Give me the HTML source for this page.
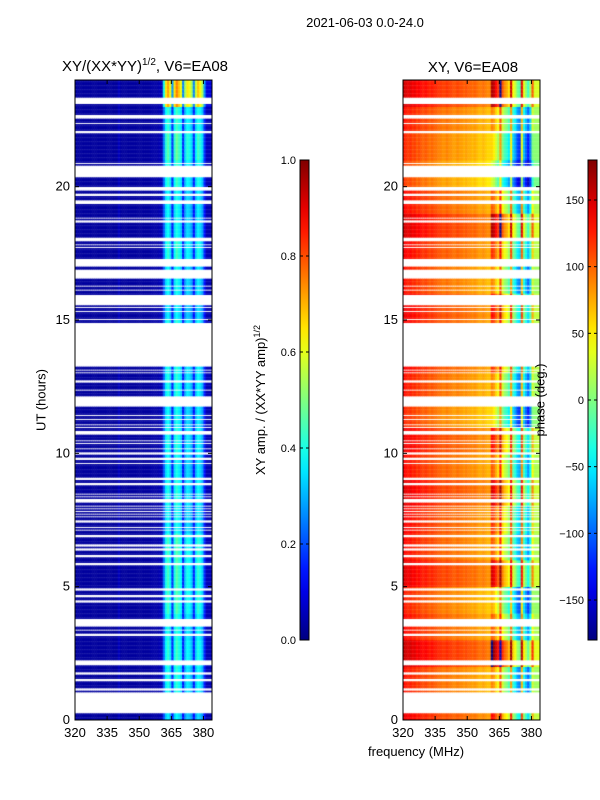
<!DOCTYPE html>
<html><head><meta charset="utf-8">
<style>
body{margin:0;background:#fff;}
#root{position:relative;width:600px;height:800px;font-family:"Liberation Sans","DejaVu Sans",sans-serif;color:#000;}
.t{position:absolute;white-space:nowrap;}
canvas{position:absolute;}
</style></head>
<body>
<div id="root">
<div class="t" style="left:0;width:730px;top:15px;text-align:center;font-size:13px;">2021-06-03 0.0-24.0</div>
<div class="t" style="left:40px;width:210px;top:57px;text-align:center;font-size:15px;">XY/(XX*YY)<sup style="font-size:10px">1/2</sup>, V6=EA08</div>
<div class="t" style="left:368px;width:210px;top:59px;text-align:center;font-size:15px;">XY, V6=EA08</div>
<canvas id="c1" width="137" height="640" style="left:75px;top:80px"></canvas>
<canvas id="c2" width="137" height="640" style="left:403px;top:80px"></canvas>
<svg id="ov" width="600" height="800" style="position:absolute;left:0;top:0"></svg>
<div class="t" style="left:41px;top:400px;transform:translate(-50%,-50%) rotate(-90deg);font-size:13px;">UT (hours)</div>
<div class="t" style="left:368px;top:744px;font-size:13px;">frequency (MHz)</div>
<div class="t" style="left:260px;top:400px;transform:translate(-50%,-50%) rotate(-90deg);font-size:13px;">XY amp. / (XX*YY amp)<sup style="font-size:9px">1/2</sup></div>
<div class="t" style="left:540px;top:400px;transform:translate(-50%,-50%) rotate(-90deg);font-size:13px;">phase (deg.)</div>
</div>
<script>
// ---- data ----
const gaps=[[23.10,23.36],[22.57,22.68],[22.35,22.42],[22.01,22.12],[20.85,20.92],[20.36,20.81],[19.84,20.02],[19.65,19.76],[19.35,19.50],[18.79,18.86],[18.67,18.75],[17.96,18.11],[17.81,17.85],[17.70,17.74],[17.59,17.62],[17.17,17.32],[17.02,17.14],[16.57,16.91],[16.39,16.42],[16.27,16.31],[16.12,16.16],[15.82,15.94],[15.56,15.79],[15.45,15.49],[15.30,15.34],[15.00,15.04],[13.24,14.92],[13.12,13.16],[13.01,13.05],[12.94,12.97],[12.64,12.75],[12.49,12.52],[12.37,12.41],[12.07,12.15],[11.92,12.04],[11.74,11.89],[11.40,11.44],[11.25,11.29],[11.14,11.17],[11.06,11.10],[10.95,10.99],[10.69,10.84],[10.46,10.50],[10.35,10.39],[10.24,10.27],[10.16,10.20],[9.97,10.05],[9.75,9.86],[9.60,9.64],[9.49,9.52],[9.34,9.37],[9.00,9.11],[8.81,8.92],[8.59,8.62],[8.47,8.51],[8.36,8.40],[8.17,8.29],[8.02,8.06],[7.91,7.95],[7.80,7.84],[7.72,7.76],[7.61,7.65],[7.39,7.50],[7.20,7.24],[7.12,7.16],[6.86,6.94],[6.49,6.60],[6.37,6.45],[6.11,6.19],[6.04,6.07],[5.81,5.89],[4.87,4.95],[4.61,4.69],[4.39,4.50],[3.67,3.82],[3.52,3.64],[3.34,3.41],[3.15,3.26],[2.89,2.92],[2.17,2.25],[2.06,2.14],[1.72,1.80],[1.46,1.54],[1.12,1.20],[0.26,1.05]];
const colAmp=[0.03,0.03,0.03,0.03,0.03,0.03,0.03,0.03,0.03,0.03,0.03,0.03,0.03,0.03,0.03,0.03,0.03,0.03,0.03,0.03,0.06,0.03,0.03,0.03,0.03,0.03,0.03,0.03,0.03,0.03,0.03,0.03,0.03,0.03,0.03,0.04,0.04,0.04,0.04,0.05,0.05,0.22,0.36,0.40,0.34,0.15,0.36,0.42,0.38,0.34,0.14,0.30,0.36,0.34,0.30,0.14,0.32,0.38,0.35,0.30,0.15,0.05,0.05,0.05];
const hourGain=[0.9,1.0,1.05,1.0,1.1,1.1,1.1,0.95,1.0,0.95,1.0,0.95,1.0,1.0,1.0,0.9,0.95,1.05,0.95,0.95,1.05,1.15,1.05,1.8];
const colPhase=[140,135,130,135,125,130,120,125,120,115,120,115,110,115,110,110,105,105,100,100,105,100,100,95,95,100,95,95,90,95,90,90,85,90,85,80,80,85,80,75,75,120,110,90,70,140,60,40,30,10,110,0,-20,-50,-60,100,-10,-40,-70,-30,60,20,20,20];
const hourShift=[10,-20,40,-10,-30,20,-10,0,20,-10,10,-40,-20,0,0,10,-20,0,30,-10,-60,-40,-20,30];
// ---- helpers ----
function jet(v){v=Math.max(0,Math.min(1,v));
 const r=Math.max(0,Math.min(1,Math.min(4*v-1.5,-4*v+4.5)));
 const g=Math.max(0,Math.min(1,Math.min(4*v-0.5,-4*v+3.5)));
 const b=Math.max(0,Math.min(1,Math.min(4*v+0.5,-4*v+2.5)));
 return `rgb(${Math.round(r*255)},${Math.round(g*255)},${Math.round(b*255)})`;}
const F0=320,F1=384,H0=0,H1=24,W=137,HH=640;
const xs=f=>(f-F0)/(F1-F0)*W, ys=h=>HH-(h-H0)/(H1-H0)*HH;
function isGap(h){return gaps.some(g=>h>=g[0]&&h<=g[1]);}
const dh=0.05, nRows=Math.round(24/dh);
const ctx1=document.getElementById('c1').getContext('2d');
const ctx2=document.getElementById('c2').getContext('2d');
for(let r=0;r<nRows;r++){
 const h=r*dh+dh/2; if(isGap(h))continue;
 const hr=Math.min(23,Math.floor(h));
 const y0=ys(r*dh+dh), y1=ys(r*dh);
 for(let c=0;c<colAmp.length;c++){
  const x0=xs(F0+c), x1=xs(F0+c+1);
  const a=c>40?colAmp[c]*hourGain[hr]:colAmp[c];
  ctx1.fillStyle=jet(a);
  ctx1.fillRect(x0,y0,x1-x0+0.5,y1-y0+0.3);
  let p=colPhase[c]+hourShift[hr]*(c>40&&c<61?1.5:0.4);
  p=((p+180)%360+360)%360-180;
  ctx2.fillStyle=jet((p+180)/360);
  ctx2.fillRect(x0,y0,x1-x0+0.5,y1-y0+0.3);
 }
}
// ---- axes ----
const NS='http://www.w3.org/2000/svg', ov=document.getElementById('ov');
function el(tag,attrs,txt){const e=document.createElementNS(NS,tag);for(const k in attrs)e.setAttribute(k,attrs[k]);if(txt!==undefined)e.textContent=txt;ov.appendChild(e);return e;}
const yTicks=[0,5,10,15,20], xTicks=[320,335,350,365,380];
[75,403].forEach((px,pi)=>{
 const fr=el('rect',{x:px,y:80,width:W,height:HH,fill:'none',stroke:'#000','stroke-width':1});
 
 
 yTicks.forEach(v=>{const y=80+ys(v);
  el('line',{x1:px,x2:px+4,y1:y,y2:y,stroke:'#000'});el('line',{x1:px+W,x2:px+W-4,y1:y,y2:y,stroke:'#000'});
  const t=el('text',{x:px-5,y:y+4,'text-anchor':'end','font-size':13},v);
  
  });
 xTicks.forEach(v=>{const x=px+xs(v);
  el('line',{x1:x,x2:x,y1:720,y2:716,stroke:'#000'});el('line',{x1:x,x2:x,y1:80,y2:84,stroke:'#000'});
  const t=el('text',{x:x,y:737,'text-anchor':'middle','font-size':13},v);
  
  });
});
// colorbars
const defs=el('defs',{});
const lg=document.createElementNS(NS,'linearGradient');lg.setAttribute('id','jg');lg.setAttribute('x1',0);lg.setAttribute('y1',1);lg.setAttribute('x2',0);lg.setAttribute('y2',0);
for(let i=0;i<=20;i++){const s=document.createElementNS(NS,'stop');s.setAttribute('offset',i/20);s.setAttribute('stop-color',jet(i/20));lg.appendChild(s);}
defs.appendChild(lg);
const cb1Ticks=[0.0,0.2,0.4,0.6,0.8,1.0], cb2Ticks=[-150,-100,-50,0,50,100,150];
[[300,cb1Ticks,0,1,'amp-colorbar'],[588,cb2Ticks,-180,180,'phase-colorbar']].forEach(([cx,ticks,lo,hi,nm])=>{
 const r=el('rect',{x:cx,y:160,width:9,height:480,fill:'url(#jg)',stroke:'#000','stroke-width':1});
 
 
 ticks.forEach(v=>{const y=640-(v-lo)/(hi-lo)*480;
  el('line',{x1:cx,x2:cx+3,y1:y,y2:y,stroke:'#000'});el('line',{x1:cx+9,x2:cx+6,y1:y,y2:y,stroke:'#000'});
  const t=el('text',{x:cx-4,y:y+4,'text-anchor':'end','font-size':11},lo===0?v.toFixed(1):(v<0?'\u2212'+(-v):v));
  
  });
});
</script>
</body></html>
